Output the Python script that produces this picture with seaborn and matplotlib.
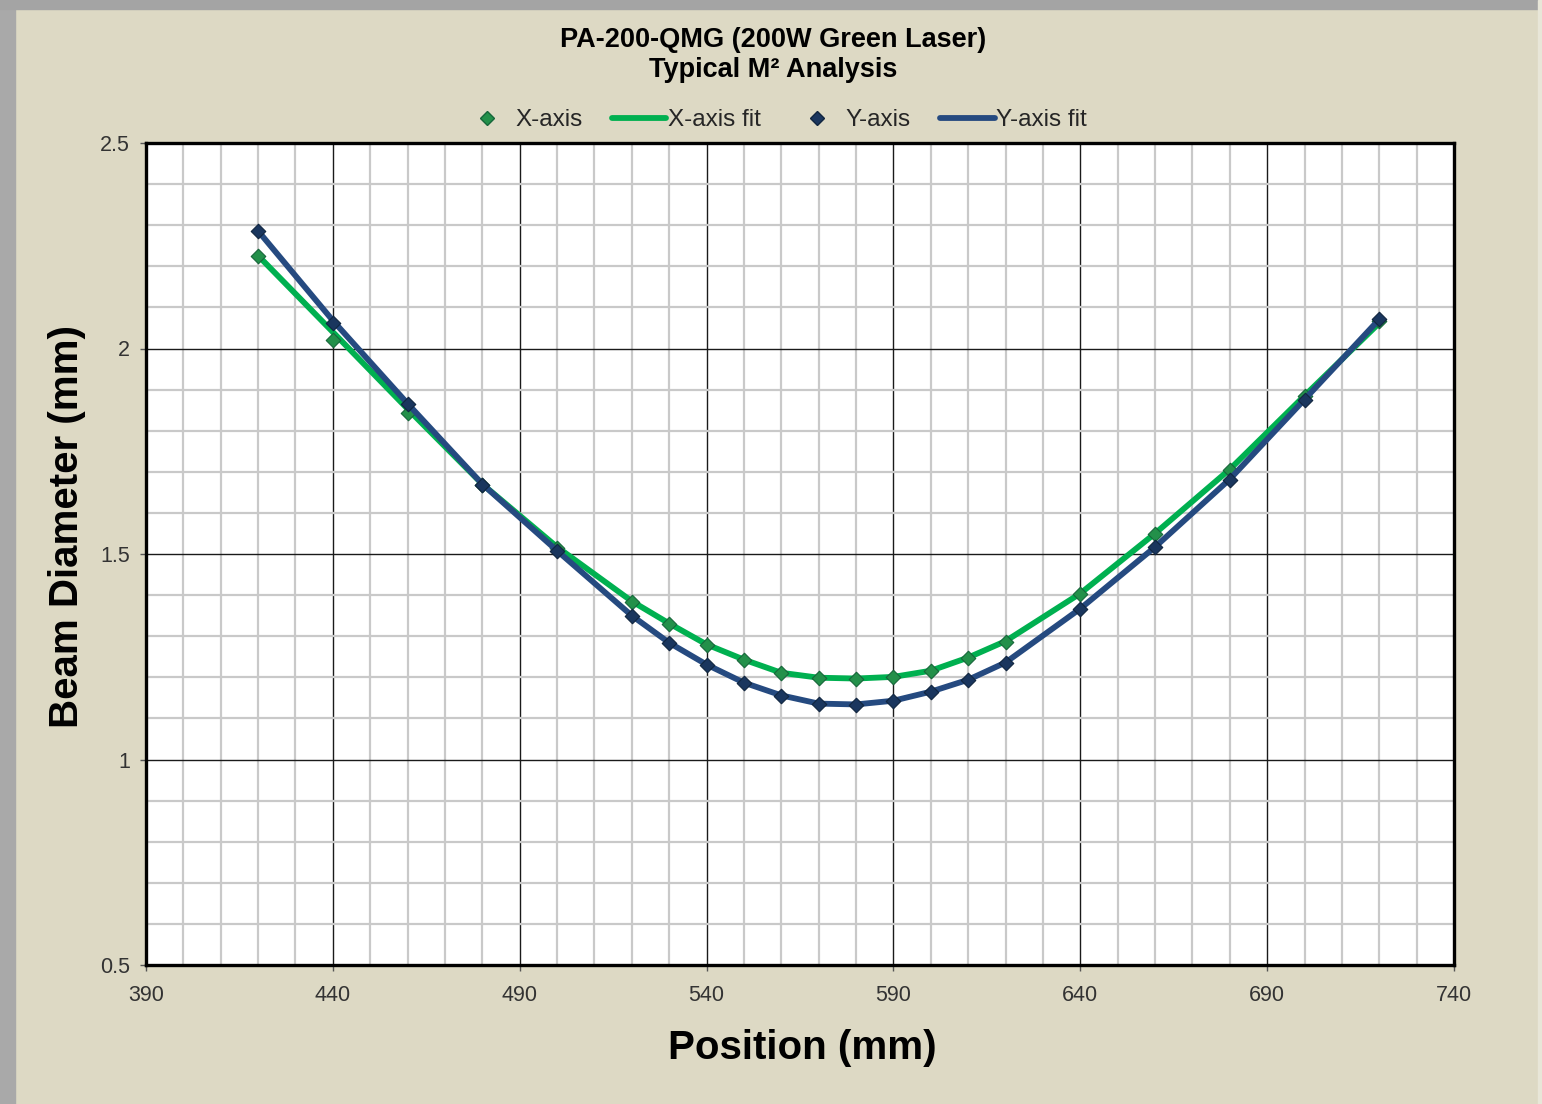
import numpy as np
import pandas as pd
import matplotlib
matplotlib.use("Agg")
import matplotlib.pyplot as plt
from matplotlib.lines import Line2D
from matplotlib.patches import Rectangle
from matplotlib.ticker import MultipleLocator
import seaborn as sns

# Measured positions (mm) and beam diameters (mm)
positions = [420, 440, 460, 480, 500, 520, 530, 540, 550, 560, 570,
             580, 590, 600, 610, 620, 640, 660, 680, 700, 720]
x_axis = [2.225, 2.021, 1.843, 1.668, 1.515, 1.383, 1.330, 1.279, 1.242, 1.210, 1.198,
          1.197, 1.200, 1.215, 1.247, 1.286, 1.403, 1.548, 1.704, 1.885, 2.068]
y_axis = [2.286, 2.062, 1.864, 1.668, 1.507, 1.349, 1.283, 1.230, 1.186, 1.155, 1.135,
          1.133, 1.142, 1.164, 1.193, 1.235, 1.366, 1.516, 1.681, 1.875, 2.071]

# Fit curves
x_fit = [2.226, 2.040, 1.853, 1.670, 1.517, 1.385, 1.331, 1.280, 1.243, 1.211, 1.199,
         1.197, 1.201, 1.216, 1.248, 1.288, 1.404, 1.550, 1.706, 1.885, 2.062]
y_fit = [2.286, 2.068, 1.866, 1.670, 1.508, 1.350, 1.284, 1.231, 1.187, 1.156, 1.136,
         1.134, 1.143, 1.165, 1.194, 1.236, 1.367, 1.517, 1.682, 1.876, 2.071]

x_ticks = [390, 440, 490, 540, 590, 640, 690, 740]
y_ticks = [0.5, 1, 1.5, 2, 2.5]
y_tick_labels = ["0.5", "1", "1.5", "2", "2.5"]

GREEN_LINE = "#00B050"
GREEN_MARK = "#23904A"
BLUE_LINE = "#254A80"
BLUE_MARK = "#1A365E"
BG = "#DDD9C4"

df_pts = pd.DataFrame({
    "Position": positions * 2,
    "Diameter": x_axis + y_axis,
    "Series": ["X-axis"] * len(positions) + ["Y-axis"] * len(positions),
})
df_fit = pd.DataFrame({
    "Position": positions * 2,
    "Diameter": x_fit + y_fit,
    "Series": ["X-axis fit"] * len(positions) + ["Y-axis fit"] * len(positions),
})

sns.set_theme(style="white")
plt.rcParams["font.family"] = ["Liberation Sans", "DejaVu Sans"]

fig = plt.figure(figsize=(15.42, 11.04), dpi=100, facecolor=BG)
ax = fig.add_axes([146 / 1542, 1 - 965 / 1104, 1308 / 1542, 822 / 1104])
ax.set_facecolor("white")

# grey frame like a screenshot window border
fig.patches.append(Rectangle((0, 0), 15 / 1542, 1, transform=fig.transFigure,
                             color="#A9A9A9", zorder=0))
fig.patches.append(Rectangle((0, 1 - 9 / 1104), 1, 9 / 1104, transform=fig.transFigure,
                             color="#A4A4A4", zorder=0))
fig.patches.append(Rectangle((1 - 4 / 1542, 0), 4 / 1542, 1, transform=fig.transFigure,
                             color="#E8E6D8", zorder=0))

# fits and points, green first so blue sits on top
sns.lineplot(data=df_fit[df_fit.Series == "X-axis fit"], x="Position", y="Diameter",
             color=GREEN_LINE, linewidth=4.2, ax=ax, zorder=3, legend=False)
sns.scatterplot(data=df_pts[df_pts.Series == "X-axis"], x="Position", y="Diameter",
                color=GREEN_MARK, marker="D", s=55, edgecolor="#16663A", linewidth=0.8,
                ax=ax, zorder=4, legend=False)
sns.lineplot(data=df_fit[df_fit.Series == "Y-axis fit"], x="Position", y="Diameter",
             color=BLUE_LINE, linewidth=4.2, ax=ax, zorder=5, legend=False)
sns.scatterplot(data=df_pts[df_pts.Series == "Y-axis"], x="Position", y="Diameter",
                color=BLUE_MARK, marker="D", s=55, edgecolor="#10253F", linewidth=0.8,
                ax=ax, zorder=6, legend=False)

ax.set_xlim(390, 740)
ax.set_ylim(0.5, 2.5)
ax.set_xticks(x_ticks)
ax.set_yticks(y_ticks)
ax.set_yticklabels(y_tick_labels)
ax.xaxis.set_minor_locator(MultipleLocator(10))
ax.yaxis.set_minor_locator(MultipleLocator(0.1))

ax.grid(which="minor", color="#C9C9C9", linewidth=1.6, zorder=0)
ax.grid(which="major", color="#1A1A1A", linewidth=1.0, zorder=1)
ax.set_axisbelow(True)

for sp in ax.spines.values():
    sp.set_visible(True)
    sp.set_color("black")
    sp.set_linewidth(2.4)
    sp.set_zorder(10)

ax.tick_params(which="major", direction="out", length=4.5, width=1, color="#555555",
               labelsize=15.5, labelcolor="#333333", bottom=True, left=True)
ax.tick_params(axis="x", pad=10)
ax.tick_params(axis="y", pad=7)
ax.tick_params(which="minor", length=0)

ax.set_xlabel("Position (mm)", fontsize=29, fontweight="bold", color="black")
ax.set_ylabel("Beam Diameter (mm)", fontsize=29, fontweight="bold", color="black")
ax.xaxis.set_label_coords(0.5015, -0.078)
ax.yaxis.set_label_coords(-0.046, 0.534)

fig.text(773 / 1542, 1 - 40 / 1104, "PA-200-QMG (200W Green Laser)", ha="center",
         va="center", fontsize=19.5, fontweight="bold", color="black")
fig.text(773 / 1542, 1 - 70 / 1104, "Typical M² Analysis", ha="center",
         va="center", fontsize=19.5, fontweight="bold", color="black")

handles = [
    Line2D([], [], linestyle="none", marker="D", markersize=7, color=GREEN_MARK,
           markeredgecolor="#16663A"),
    Line2D([], [], color=GREEN_LINE, linewidth=4.2),
    Line2D([], [], linestyle="none", marker="D", markersize=7, color=BLUE_MARK,
           markeredgecolor="#10253F"),
    Line2D([], [], color=BLUE_LINE, linewidth=4.2),
]
labels = ["X-axis", "X-axis fit", "Y-axis", "Y-axis fit"]
fig.legend(handles, labels, loc="center", bbox_to_anchor=(773 / 1542, 1 - 120 / 1104),
           ncol=4, frameon=False, fontsize=17.5, handlelength=2.25, handletextpad=0.05,
           columnspacing=1.2)

fig.savefig("out.png", dpi=100, facecolor=BG)
